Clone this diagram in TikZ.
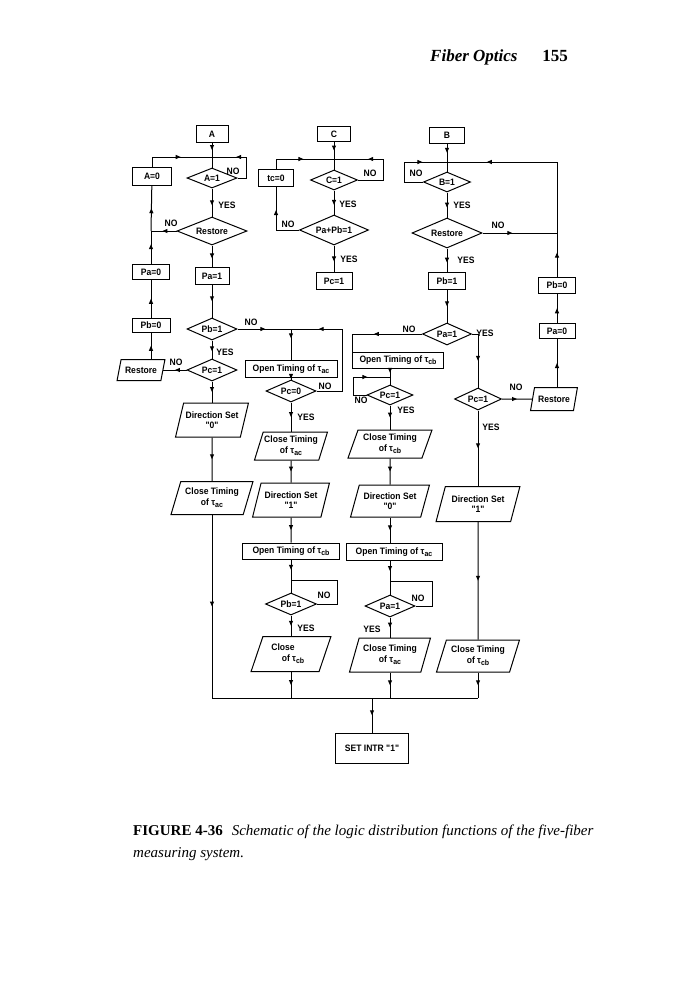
\documentclass[tikz,border=0pt]{standalone}
\usepackage{fontspec}
\setmainfont{Liberation Serif}
\newfontfamily\chartfamily{Liberation Sans}[FakeStretch=0.92]
\usetikzlibrary{shapes.geometric,arrows.meta,decorations.markings}
\newcommand{\chartfont}{\chartfamily\bfseries\fontsize{9.3}{10.5}\selectfont}
\newcommand{\tsub}[1]{\raisebox{-0.45ex}{\fontsize{7.6}{8}\selectfont #1}}

\begin{document}
\begin{tikzpicture}[
  x=1pt,
  y=-1pt,
  wire/.style={line width=1pt},
  flow/.style={wire, postaction={decorate},
               decoration={markings,
                 mark=at position #1 with {\arrow{Triangle[length=5pt,width=4pt]}}}},
  flow/.default=0.5,
  box/.style={draw, line width=1pt, rectangle, inner sep=1pt, font=\chartfont},
  cond/.style={draw, line width=1pt, diamond, aspect=2.4, inner sep=0.5pt,
               font=\chartfont},
  io/.style={draw, line width=1pt, trapezium, trapezium left angle=68,
             trapezium right angle=112, trapezium stretches=true,
             inner sep=1pt, align=center, font=\chartfont},
  yn/.style={inner sep=0pt, font=\chartfont}
]
  \useasboundingbox (0,0) rectangle (675,999);

  % ---- running head and caption -------------------------------------------
  \node[anchor=base west, inner sep=0pt,
        font=\fontsize{17}{20}\selectfont\bfseries\itshape] (runhead)
    at (430,61) {Fiber Optics};
  \node[anchor=base east, inner sep=0pt,
        font=\fontsize{17}{20}\selectfont\bfseries] (folio)
    at (568,61) {155};

  \node[anchor=base west, inner sep=0pt, font=\fontsize{15}{18}\selectfont]
    (caption1) at (133,835)
    {\textbf{FIGURE 4-36}\hspace{0.6em}\textit{Schematic of the logic
     distribution functions of the five-fiber}};
  \node[anchor=base west, inner sep=0pt,
        font=\fontsize{15}{18}\selectfont\itshape] (caption2)
    at (133,857) {measuring system.};

  % ---- column A -----------------------------------------------------------
  \node[box, minimum width=32pt, minimum height=17pt] (A) at (212,134) {A};
  \node[cond, minimum width=50pt, minimum height=20pt] (a1) at (212,178) {A=1};
  \node[box, minimum width=39pt, minimum height=18pt] (a0) at (152,176) {A=0};
  \node[cond, minimum width=70pt, minimum height=28pt] (rsa) at (212,231) {Restore};
  \node[box, minimum width=37pt, minimum height=15pt] (pa0) at (151,272) {Pa=0};
  \node[box, minimum width=34pt, minimum height=17pt] (pa1) at (212,276) {Pa=1};
  \node[box, minimum width=38pt, minimum height=14pt] (pb0) at (151,325) {Pb=0};
  \node[cond, minimum width=50pt, minimum height=22pt] (pb1) at (212,329) {Pb=1};
  \node[cond, minimum width=50pt, minimum height=22pt] (pc1a) at (212,370) {Pc=1};
  \node[io, minimum width=48pt, minimum height=21pt] (rsl) at (141,370) {Restore};
  \node[io, minimum width=73pt, minimum height=34pt] (dirA) at (212,420)
    {Direction Set\\"0"};
  \node[io, minimum width=82pt, minimum height=33pt] (closeA) at (212,498)
    {Close Timing\\of τ\tsub{ac}};

  % ---- column C -----------------------------------------------------------
  \node[box, minimum width=33pt, minimum height=15pt] (C) at (334,134) {C};
  \node[cond, minimum width=47pt, minimum height=20pt] (c1) at (334,180) {C=1};
  \node[box, minimum width=35pt, minimum height=17pt] (tc0) at (276,178) {tc=0};
  \node[cond, minimum width=69pt, minimum height=30pt] (papb) at (334,230) {Pa+Pb=1};
  \node[box, minimum width=36pt, minimum height=17pt] (pc1box) at (334,281) {Pc=1};

  % ---- column B -----------------------------------------------------------
  \node[box, minimum width=35pt, minimum height=16pt] (B) at (447,135) {B};
  \node[cond, minimum width=47pt, minimum height=20pt] (b1) at (447,182) {B=1};
  \node[cond, minimum width=70pt, minimum height=30pt] (rsb) at (447,233) {Restore};
  \node[box, minimum width=37pt, minimum height=17pt] (pb1box) at (447,281) {Pb=1};
  \node[box, minimum width=37pt, minimum height=16pt] (pb0r) at (557,285) {Pb=0};
  \node[box, minimum width=36pt, minimum height=15pt] (pa0r) at (557,331) {Pa=0};
  \node[cond, minimum width=49pt, minimum height=22pt] (pa1d) at (447,334) {Pa=1};
  \node[io, minimum width=47pt, minimum height=23pt] (rsr) at (554,399) {Restore};

  % ---- timing of tau ac, then tau cb ---------------------------------------
  \node[box, minimum width=92pt, minimum height=17pt] (openac) at (291,369)
    {Open Timing of τ\tsub{ac}};
  \node[cond, minimum width=50pt, minimum height=22pt] (pc0) at (291,391) {Pc=0};
  \node[io, minimum width=73pt, minimum height=28pt] (closeac) at (291,446)
    {Close Timing\\of τ\tsub{ac}};
  \node[io, minimum width=77pt, minimum height=34pt] (dir1) at (291,500)
    {Direction Set\\"1"};
  \node[box, minimum width=97pt, minimum height=16pt] (opencb) at (291,551)
    {Open Timing of τ\tsub{cb}};
  \node[cond, minimum width=51pt, minimum height=22pt] (pb1b) at (291,604) {Pb=1};
  \node[io, minimum width=80pt, minimum height=35pt] (closecb) at (291,654)
    {Close\hspace*{16pt}\\\hspace*{4pt}of τ\tsub{cb}};

  % ---- timing of tau cb, then tau ac ---------------------------------------
  \node[box, minimum width=91pt, minimum height=16pt] (opencb2) at (398,360)
    {Open Timing of τ\tsub{cb}};
  \node[cond, minimum width=46pt, minimum height=20pt] (pc1c) at (390,395) {Pc=1};
  \node[io, minimum width=84pt, minimum height=28pt] (closecb2) at (390,444)
    {Close Timing\\of τ\tsub{cb}};
  \node[io, minimum width=79pt, minimum height=32pt] (dir0) at (390,501)
    {Direction Set\\"0"};
  \node[box, minimum width=96pt, minimum height=17pt] (openac2) at (394,552)
    {Open Timing of τ\tsub{ac}};
  \node[cond, minimum width=50pt, minimum height=22pt] (pa1e) at (390,606) {Pa=1};
  \node[io, minimum width=81pt, minimum height=34pt] (closeac2) at (390,655)
    {Close Timing\\of τ\tsub{ac}};

  % ---- right hand column ---------------------------------------------------
  \node[cond, minimum width=47pt, minimum height=22pt] (pc1d) at (478,399) {Pc=1};
  \node[io, minimum width=84pt, minimum height=35pt] (dir1r) at (478,504)
    {Direction Set\\"1"};
  \node[io, minimum width=83pt, minimum height=32pt] (closecb3) at (478,656)
    {Close Timing\\of τ\tsub{cb}};

  \node[box, minimum width=73pt, minimum height=30pt] (set) at (372,748)
    {SET INTR "1"};

  % ---- junction points -----------------------------------------------------
  \coordinate (jA) at (212,157);
  \coordinate (aloop) at (246,157);
  \coordinate (jL) at (151,231);
  \coordinate (jC) at (334,159);
  \coordinate (cloop) at (383,159);
  \coordinate (jB) at (447,162);
  \coordinate (bloop) at (404,162);
  \coordinate (jR) at (557,233);
  \coordinate (rtop) at (557,162);
  \coordinate (j2) at (291,329);
  \coordinate (c2) at (342,329);
  \coordinate (j2b) at (291,580);
  \coordinate (c2b) at (337,580);
  \coordinate (jc3) at (390,377);
  \coordinate (c3loop) at (353,377);
  \coordinate (jc3b) at (390,581);
  \coordinate (c3bloop) at (432,581);
  \coordinate (c4) at (478,334);
  \coordinate (busL) at (212,698);
  \coordinate (busR) at (478,698);
  \coordinate (busM) at (372,698);

  % ---- connectors, column A ------------------------------------------------
  \draw[flow] (A) -- (jA);
  \draw[wire] (jA) -- (a1);
  \draw[flow=0.55] (a0) |- (jA);
  \draw[flow=0.62] (a1.east) -| (aloop) -- (jA);
  \draw[flow=0.6] (a1) -- (rsa);
  \draw[flow=0.55] (rsa) -- (jL);
  \draw[flow=0.6] (pa0) -- (jL);
  \draw[flow] (jL) -- (a0);
  \draw[flow=0.6] (rsa) -- (pa1);
  \draw[flow] (pa1) -- (pb1);
  \draw[flow] (pb0) -- (pa0);
  \draw[flow] (rsl.north -| pb0) -- (pb0);
  \draw[flow=0.6] (pb1) -- (pc1a);
  \draw[flow] (pc1a) -- (rsl);
  \draw[flow] (pc1a) -- (dirA);
  \draw[flow] (dirA) -- (closeA);
  \draw[flow] (closeA) -- (busL);

  % ---- connectors, column C ------------------------------------------------
  \draw[flow] (C) -- (jC);
  \draw[wire] (jC) -- (c1);
  \draw[flow=0.55] (tc0) |- (jC);
  \draw[flow=0.64] (c1.east) -| (cloop) -- (jC);
  \draw[flow=0.6] (c1) -- (papb);
  \draw[flow=0.65] (papb.west) -| (tc0);
  \draw[flow=0.6] (papb) -- (pc1box);

  % ---- connectors, column B ------------------------------------------------
  \draw[flow] (B) -- (jB);
  \draw[wire] (jB) -- (b1);
  \draw[flow=0.7] (b1.west) -| (bloop) -- (jB);
  \draw[flow=0.6] (b1) -- (rsb);
  \draw[flow=0.4] (rsb) -- (jR);
  \draw[flow=0.55] (pb0r) -- (jR);
  \draw[flow=0.78] (jR) -- (rtop) -- (jB);
  \draw[flow=0.6] (rsb) -- (pb1box);
  \draw[flow] (pb1box) -- (pa1d);
  \draw[flow] (pa0r) -- (pb0r);
  \draw[flow] (rsr.north -| pa0r) -- (pa0r);
  \draw[flow=0.55] (pa1d.west) -| (opencb2.north west);
  \draw[wire] (pa1d.east) -- (c4);
  \draw[flow] (c4) -- (pc1d);

  % ---- connectors, timing of tau ac ----------------------------------------
  \draw[flow=0.52] (pb1) -- (j2);
  \draw[wire] (j2) -- (c2);
  \draw[flow=0.3] (j2) -- (openac);
  \draw[flow] (openac) -- (pc0);
  \draw[flow=0.8] (pc0.east) -| (c2) -- (j2);
  \draw[flow] (pc0) -- (closeac);
  \draw[flow] (closeac) -- (dir1);
  \draw[flow] (dir1) -- (opencb);
  \draw[flow] (opencb) -- (j2b);
  \draw[wire] (j2b) -- (pb1b);
  \draw[wire] (pb1b.east) -| (c2b) -- (j2b);
  \draw[flow] (pb1b) -- (closecb);
  \draw[flow] (closecb) -- (closecb |- busL);

  % ---- connectors, timing of tau cb ----------------------------------------
  \draw[flow] (opencb2.south -| jc3) -- (jc3);
  \draw[wire] (jc3) -- (pc1c);
  \draw[flow=0.67] (pc1c.west) -| (c3loop) -- (jc3);
  \draw[flow] (pc1c) -- (closecb2);
  \draw[flow] (closecb2) -- (dir0);
  \draw[flow] (dir0) -- (dir0 |- openac2.north);
  \draw[flow] (openac2.south -| jc3b) -- (jc3b);
  \draw[wire] (jc3b) -- (pa1e);
  \draw[wire] (pa1e.east) -| (c3bloop) -- (jc3b);
  \draw[flow] (pa1e) -- (closeac2);
  \draw[flow] (closeac2) -- (closeac2 |- busL);

  % ---- connectors, right hand column and the bus ---------------------------
  \draw[flow] (pc1d) -- (rsr);
  \draw[flow] (pc1d) -- (dir1r);
  \draw[flow] (dir1r) -- (closecb3);
  \draw[flow] (closecb3) -- (busR);
  \draw[wire] (busL) -- (busR);
  \draw[flow] (busM) -- (set);

  % ---- YES / NO --------------------------------------------------------------
  \node[yn] (no-a1) at (233,171) {NO};
  \node[yn] (yes-a1) at (227,205) {YES};
  \node[yn] (no-rsa) at (171,223) {NO};
  \node[yn] (no-c1) at (370,173) {NO};
  \node[yn] (yes-c1) at (348,204) {YES};
  \node[yn] (no-papb) at (288,224) {NO};
  \node[yn] (yes-papb) at (349,259) {YES};
  \node[yn] (no-b1) at (416,173) {NO};
  \node[yn] (yes-b1) at (462,205) {YES};
  \node[yn] (no-rsb) at (498,225) {NO};
  \node[yn] (yes-rsb) at (466,260) {YES};
  \node[yn] (no-pb1) at (251,322) {NO};
  \node[yn] (yes-pb1) at (225,352) {YES};
  \node[yn] (no-pc1a) at (176,362) {NO};
  \node[yn] (no-pc0) at (325,386) {NO};
  \node[yn] (yes-pc0) at (306,417) {YES};
  \node[yn] (no-pa1d) at (409,329) {NO};
  \node[yn] (yes-pa1d) at (485,333) {YES};
  \node[yn] (no-pc1c) at (361,400) {NO};
  \node[yn] (yes-pc1c) at (406,410) {YES};
  \node[yn] (no-pc1d) at (516,387) {NO};
  \node[yn] (yes-pc1d) at (491,427) {YES};
  \node[yn] (no-pb1b) at (324,595) {NO};
  \node[yn] (yes-pb1b) at (306,628) {YES};
  \node[yn] (no-pa1e) at (418,598) {NO};
  \node[yn] (yes-pa1e) at (372,629) {YES};
\end{tikzpicture}
\end{document}
